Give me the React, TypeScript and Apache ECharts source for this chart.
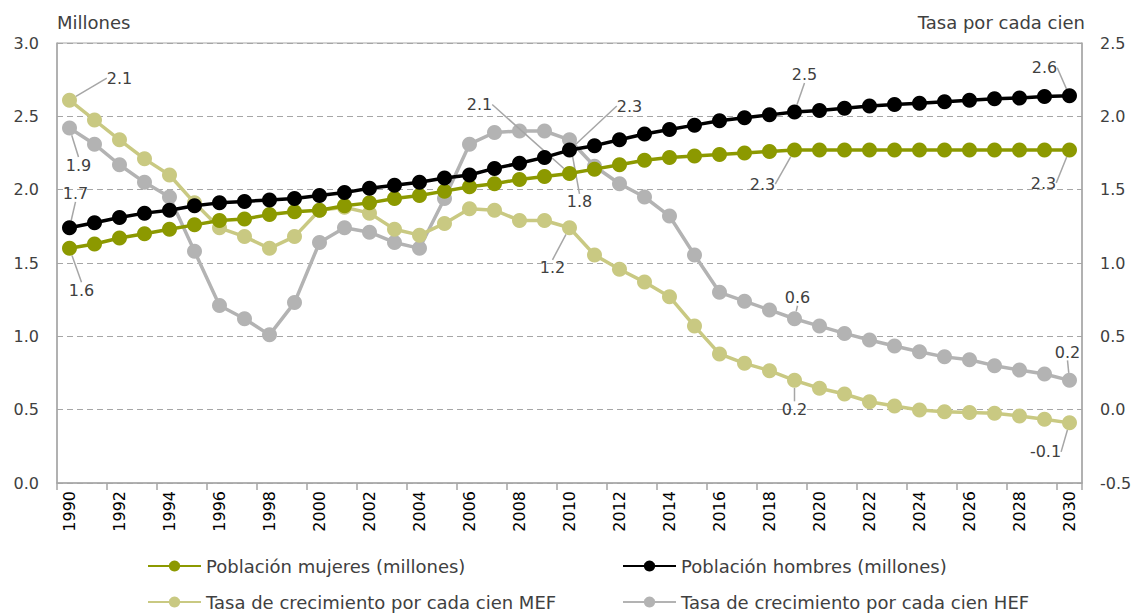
import React, { useEffect, useRef } from "react";
import * as echarts from "echarts";

const years: string[] = [];
for (let y = 1990; y <= 2030; y++) years.push(String(y));

const mujeres = [1.60, 1.63, 1.67, 1.70, 1.73, 1.76, 1.79, 1.80, 1.83, 1.85, 1.86, 1.89, 1.91, 1.94, 1.96, 1.99, 2.02, 2.04, 2.07, 2.09, 2.11, 2.14, 2.17, 2.20, 2.22, 2.23, 2.24, 2.25, 2.26, 2.27, 2.27, 2.27, 2.27, 2.27, 2.27, 2.27, 2.27, 2.27, 2.27, 2.27, 2.27];
const hombres = [1.74, 1.775, 1.81, 1.84, 1.86, 1.89, 1.91, 1.92, 1.93, 1.94, 1.96, 1.98, 2.01, 2.03, 2.05, 2.08, 2.10, 2.145, 2.18, 2.22, 2.27, 2.30, 2.34, 2.38, 2.41, 2.44, 2.47, 2.49, 2.51, 2.53, 2.54, 2.555, 2.57, 2.58, 2.59, 2.60, 2.61, 2.62, 2.625, 2.635, 2.64];
const tasaMEF = [2.11, 1.975, 1.84, 1.71, 1.60, 1.41, 1.24, 1.18, 1.10, 1.18, 1.36, 1.38, 1.34, 1.23, 1.19, 1.27, 1.37, 1.36, 1.29, 1.29, 1.24, 1.055, 0.957, 0.87, 0.77, 0.57, 0.38, 0.316, 0.266, 0.20, 0.146, 0.107, 0.054, 0.025, -0.002, -0.014, -0.02, -0.025, -0.043, -0.066, -0.09];
const tasaHEF = [1.92, 1.81, 1.67, 1.55, 1.45, 1.08, 0.71, 0.62, 0.51, 0.73, 1.14, 1.24, 1.21, 1.14, 1.10, 1.44, 1.81, 1.89, 1.90, 1.90, 1.84, 1.66, 1.54, 1.45, 1.32, 1.055, 0.80, 0.74, 0.68, 0.62, 0.57, 0.52, 0.475, 0.434, 0.395, 0.36, 0.34, 0.30, 0.27, 0.243, 0.20];

const seriesNames = [
  "Población mujeres (millones)",
  "Población hombres (millones)",
  "Tasa de crecimiento por cada cien MEF",
  "Tasa de crecimiento por cada cien HEF",
];
const labeledIdx = [0, 20, 29, 40];

// label offsets [dx, dy] per series for labeled indices
const labelOffsets: Record<number, Record<number, [number, number]>> = {
  0: { 0: [12, 42], 20: [-90, -69], 29: [-32, 34], 40: [-26, 33] },
  1: { 0: [6, -34], 20: [60, -44], 29: [10, -37], 40: [-25, -28] },
  2: { 0: [50, -22], 20: [-17, 40], 29: [0, 29], 40: [-24, 29] },
  3: { 0: [9, 37], 20: [10, 62], 29: [3, -21], 40: [-2, -28] },
};

const FONT = "DejaVu Sans";
const TXT = "#404040";

function toData(arr: number[]) {
  return arr.map((v, i) =>
    labeledIdx.includes(i)
      ? { value: v, label: { show: true } }
      : { value: v }
  );
}

export default function App() {
  const ref = useRef<HTMLDivElement>(null);
  useEffect(() => {
    if (!ref.current) return;
    const chart = echarts.init(ref.current, undefined, { renderer: "svg" });
    const colors = ["#8c9900", "#000000", "#c9c982", "#b3b3b3"];
    const datas = [mujeres, hombres, tasaMEF, tasaHEF];
    const series = datas.map((d, si) => ({
      name: seriesNames[si],
      type: "line",
      yAxisIndex: si < 2 ? 0 : 1,
      data: toData(d),
      symbol: "circle",
      symbolSize: 15,
      z: [3, 4, 2, 1][si],
      lineStyle: { width: 3.5, color: colors[si] },
      itemStyle: { color: colors[si] },
      label: {
        show: false,
        position: "inside",
        formatter: (p: any) => Number(p.value).toFixed(1),
        color: TXT,
        fontFamily: FONT,
        fontSize: 16,
      },
      labelLine: { show: true, lineStyle: { color: "#a6a6a6", width: 1.5 } },
      labelLayout: (params: any) => {
        const o = labelOffsets[si][params.dataIndex];
        return o ? { dx: o[0], dy: o[1] } : {};
      },
      emphasis: { disabled: true },
    }));
    const legendPos: [number, number][] = [
      [147, 557],
      [622, 557],
      [147, 593],
      [622, 593],
    ];
    const legends = seriesNames.map((n, i) => ({
      data: [n],
      left: legendPos[i][0],
      top: legendPos[i][1],
      itemWidth: 53,
      itemHeight: 14,
      padding: 0,
      textStyle: { color: TXT, fontFamily: FONT, fontSize: 18 },
    }));
    chart.setOption({
      animation: false,
      color: colors,
      grid: {
        left: 57,
        right: 53,
        top: 43,
        bottom: 132,
        show: true,
        borderColor: "#a6a6a6",
        borderWidth: 1,
      },
      legend: legends,
      xAxis: {
        type: "category",
        data: years,
        boundaryGap: true,
        axisLine: { lineStyle: { color: "#a6a6a6", width: 1.5 } },
        axisTick: { show: true, interval: 1, length: 7, lineStyle: { color: "#a6a6a6", width: 1.5 } },
        axisLabel: {
          interval: 1,
          rotate: 90,
          color: "#000",
          fontFamily: FONT,
          fontSize: 16,
          margin: 8,
        },
      },
      yAxis: [
        {
          type: "value",
          min: 0,
          max: 3,
          interval: 0.5,
          name: "Millones",
          nameLocation: "end",
          nameGap: 12,
          nameTextStyle: { color: TXT, fontFamily: FONT, fontSize: 18, align: "left" },
          axisLine: { show: true, lineStyle: { color: "#a6a6a6", width: 1.5 } },
          axisTick: { show: false },
          axisLabel: {
            color: TXT,
            fontFamily: FONT,
            fontSize: 16,
            margin: 18,
            formatter: (v: number) => v.toFixed(1),
          },
          splitLine: { show: true, lineStyle: { color: "#a6a6a6", type: [6, 4], width: 1.2 } },
        },
        {
          type: "value",
          min: -0.5,
          max: 2.5,
          interval: 0.5,
          name: "Tasa por cada cien",
          nameLocation: "end",
          nameGap: 12,
          nameTextStyle: { color: TXT, fontFamily: FONT, fontSize: 18, align: "right", padding: [0, -3, 0, 0] },
          axisLine: { show: true, lineStyle: { color: "#a6a6a6", width: 1.5 } },
          axisTick: { show: false },
          axisLabel: {
            color: TXT,
            fontFamily: FONT,
            fontSize: 16,
            margin: 18,
            formatter: (v: number) => v.toFixed(1),
          },
          splitLine: { show: false },
        },
      ],
      series,
    });
    return () => chart.dispose();
  }, []);
  return <div ref={ref} style={{ width: 1135, height: 615, position: "absolute", left: 0, top: 0 }} />;
}
